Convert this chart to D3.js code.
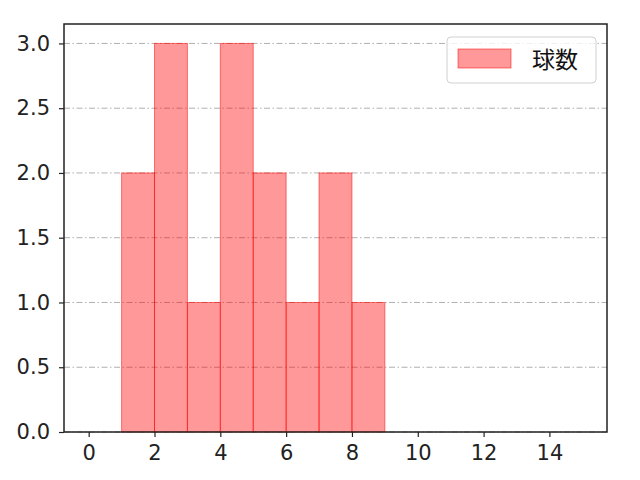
<!DOCTYPE html>
<html>
<head>
<meta charset="utf-8">
<script src="https://cdn.jsdelivr.net/npm/d3@7"></script>
<style>
  body { margin: 0; background: #fff; }
  text { font-family: "Noto Sans CJK JP", "DejaVu Sans", sans-serif; }
</style>
</head>
<body>
<svg id="chart"></svg>
<script>
// histogram bins (start, end) and counts
const binStarts = [1, 2, 3, 4, 5, 6, 7, 8];
const binWidth = 1;
const counts = [2, 3, 1, 3, 2, 1, 2, 1];
const xTicks = [0, 2, 4, 6, 8, 10, 12, 14];
const yTicks = [0, 0.5, 1.0, 1.5, 2.0, 2.5, 3.0];
const seriesName = "球数";

const width = 640, height = 480;
const margin = { top: 24, right: 33, bottom: 48, left: 64 };

const svg = d3.select("#chart")
  .attr("width", width)
  .attr("height", height);

const x = d3.scaleLinear()
  .domain([-0.75, 15.75])
  .range([margin.left, width - margin.right]);

const y = d3.scaleLinear()
  .domain([0, 3.15])
  .range([height - margin.bottom, margin.top]);

// grid lines
svg.append("g")
  .selectAll("line")
  .data(yTicks)
  .join("line")
  .attr("x1", margin.left)
  .attr("x2", width - margin.right)
  .attr("y1", d => y(d))
  .attr("y2", d => y(d))
  .attr("stroke", "#b0b0b0")
  .attr("stroke-width", 1)
  .attr("stroke-dasharray", "6,2.5,1.5,2.5");

// bars
svg.append("g")
  .selectAll("rect")
  .data(counts)
  .join("rect")
  .attr("x", (d, i) => x(binStarts[i]))
  .attr("y", d => y(d))
  .attr("width", (d, i) => x(binStarts[i] + binWidth) - x(binStarts[i]))
  .attr("height", d => y(0) - y(d))
  .attr("fill", "red")
  .attr("fill-opacity", 0.4)
  .attr("stroke", "red")
  .attr("stroke-opacity", 0.5)
  .attr("stroke-width", 1);

// axes
const xAxis = d3.axisBottom(x).tickValues(xTicks).tickSize(5).tickPadding(8).tickFormat(d3.format("d"));
const yAxis = d3.axisLeft(y).tickValues(yTicks).tickSize(5).tickPadding(9).tickFormat(d3.format(".1f"));

const gx = svg.append("g")
  .attr("transform", `translate(0,${height - margin.bottom})`)
  .call(xAxis);
const gy = svg.append("g")
  .attr("transform", `translate(${margin.left},0)`)
  .call(yAxis);

[gx, gy].forEach(g => {
  g.select(".domain").remove();
  g.selectAll(".tick line").attr("stroke", "#222").attr("stroke-width", 1.2);
  g.selectAll(".tick text")
    .attr("fill", "#222")
    .style("font-family", "'DejaVu Sans', sans-serif")
    .style("font-size", "21px");
});

// frame
svg.append("rect")
  .attr("x", margin.left)
  .attr("y", margin.top)
  .attr("width", width - margin.left - margin.right)
  .attr("height", height - margin.top - margin.bottom)
  .attr("fill", "none")
  .attr("stroke", "#222")
  .attr("stroke-width", 1.5);

// legend
const legend = svg.append("g").attr("transform", "translate(447,37)");
legend.append("rect")
  .attr("width", 149)
  .attr("height", 46)
  .attr("rx", 4)
  .attr("fill", "#fff")
  .attr("fill-opacity", 0.8)
  .attr("stroke", "#d0d0d0");
legend.append("rect")
  .attr("x", 11)
  .attr("y", 12)
  .attr("width", 53)
  .attr("height", 19)
  .attr("fill", "red")
  .attr("fill-opacity", 0.4)
  .attr("stroke", "red")
  .attr("stroke-opacity", 0.5);
legend.append("text")
  .attr("x", 85)
  .attr("y", 31)
  .style("font-size", "23px")
  .attr("fill", "#111")
  .text(seriesName);
</script>
</body>
</html>
